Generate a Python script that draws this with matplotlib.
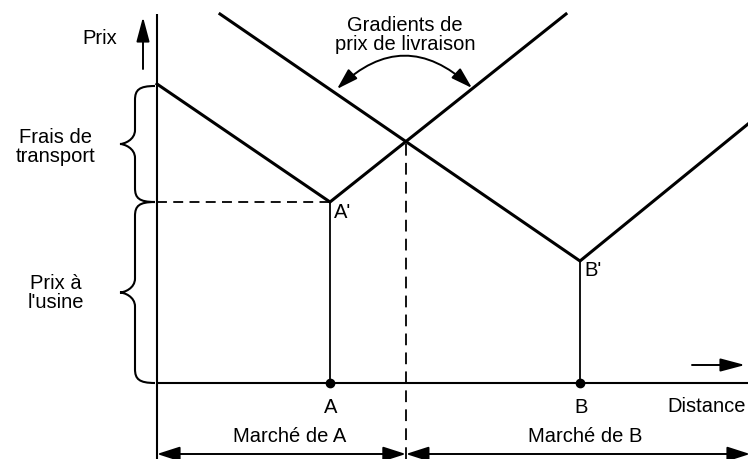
import matplotlib
matplotlib.use("Agg")
import matplotlib.pyplot as plt
from matplotlib.path import Path
from matplotlib.patches import PathPatch, FancyArrowPatch

# ---------------- data (abstract units: distance / price) ----------------
market_labels = ["A", "B"]
market_pos = [173, 423]            # location of the two markets on the distance axis
factory_price = [181, 122]         # price at the plant (A', B')
gradient_A_x = [0, 173, 409]       # delivered-price gradient of A
gradient_A_y = [299, 181, 369]
gradient_B_x = [63, 423, 591]      # delivered-price gradient of B
gradient_B_y = [369, 122, 259]

x_min, x_max = -157, 591
y_min, y_max = -76, 384

# intersection of A's rising gradient and B's falling gradient -> market boundary
def _line(x, y, i):
    m = (y[i + 1] - y[i]) / (x[i + 1] - x[i])
    return m, y[i] - m * x[i]

mA, bA = _line(gradient_A_x, gradient_A_y, 1)
mB, bB = _line(gradient_B_x, gradient_B_y, 0)
boundary_x = (bB - bA) / (mA - mB)
boundary_y = mA * boundary_x + bA

FONT = ["Liberation Sans", "DejaVu Sans"]
FS = 14.5
plt.rcParams["font.family"] = FONT

fig = plt.figure(figsize=(7.48, 4.60), dpi=100)
ax = fig.add_axes([0, 0, 1, 1])
ax.set_xlim(x_min, x_max)
ax.set_ylim(y_min, y_max)
ax.axis("off")

# axes
ax.plot([0, 0], [y_min, 369], color="black", lw=1.5, solid_capstyle="butt")
ax.plot([0, x_max], [0, 0], color="black", lw=1.5, solid_capstyle="butt")

# gradients
ax.plot(gradient_A_x, gradient_A_y, color="black", lw=2.2, solid_joinstyle="miter")
ax.plot(gradient_B_x, gradient_B_y, color="black", lw=2.2, solid_joinstyle="miter")

# plant verticals and dots
for xp, fp, lab in zip(market_pos, factory_price, market_labels):
    ax.plot([xp, xp], [0, fp], color="black", lw=1.3)
    ax.plot([xp], [0], "o", color="black", ms=6)
    ax.text(xp + 1, -24, lab, ha="center", va="center", fontsize=FS)
    ax.text(xp + 4, fp - 9, lab + "'", ha="left", va="center", fontsize=FS)

# dashed horizontal (factory price A) and dashed vertical (market boundary)
ln, = ax.plot([0, market_pos[0]], [factory_price[0]] * 2, color="black", lw=1.3)
ln.set_dashes((5.5, 3.5))
ln, = ax.plot([boundary_x, boundary_x], [y_min, boundary_y], color="black", lw=1.3)
ln.set_dashes((6.5, 4.0))

# braces
def brace(y0, y1, xr=-2, xm=-22, xt=-37, r=14):
    ym = (y0 + y1) / 2
    verts = [(xr, y1),
             (xm + 4, y1), (xm, y1 - 4), (xm, y1 - r),
             (xm, ym + r),
             (xm, ym + 4), (xt + 4, ym), (xt, ym),
             (xt + 4, ym), (xm, ym - 4), (xm, ym - r),
             (xm, y0 + r),
             (xm, y0 + 4), (xm + 4, y0), (xr, y0)]
    codes = [Path.MOVETO,
             Path.CURVE4, Path.CURVE4, Path.CURVE4,
             Path.LINETO,
             Path.CURVE4, Path.CURVE4, Path.CURVE4,
             Path.CURVE4, Path.CURVE4, Path.CURVE4,
             Path.LINETO,
             Path.CURVE4, Path.CURVE4, Path.CURVE4]
    ax.add_patch(PathPatch(Path(verts, codes), fill=False, lw=1.5, color="black"))

brace(factory_price[0], gradient_A_y[0] - 2)
brace(0, factory_price[0])

# texts
ax.text(-57, 346, "Prix", ha="center", va="center", fontsize=FS)
ax.text(-101, 237, "Frais de\ntransport", ha="center", va="center", fontsize=FS,
        linespacing=0.98)
ax.text(-101, 91, "Prix à\nl'usine", ha="center", va="center", fontsize=FS,
        linespacing=0.98)
ax.text(248, 349, "Gradients de\nprix de livraison", ha="center", va="center",
        fontsize=FS, linespacing=0.98)
ax.text(510, -23, "Distance", ha="left", va="center", fontsize=FS)
ax.text(133, -53, "Marché de A", ha="center", va="center", fontsize=FS)
ax.text(428, -53, "Marché de B", ha="center", va="center", fontsize=FS)

# arrows
def arrow(p0, p1, style, rad=0.0, hl=1.4, hw=0.45):
    a = FancyArrowPatch(p0, p1, arrowstyle=f"{style},head_length={hl},head_width={hw}",
                        connectionstyle=f"arc3,rad={rad}", mutation_scale=10,
                        color="black", lw=1.4, shrinkA=0, shrinkB=0)
    ax.add_patch(a)

arrow((-14, 314), (-14, 366), "-|>", hl=1.5, hw=0.4)
arrow((535, 18), (588, 18), "-|>", hl=1.5, hw=0.4)
arrow((0, -71), (boundary_x, -71), "<|-|>")
arrow((boundary_x, -71), (x_max + 2, -71), "<|-|>")
arrow((180, 294), (315, 295), "<|-|>", rad=-0.47, hl=1.3, hw=0.4)

fig.savefig("out.png", dpi=100)
